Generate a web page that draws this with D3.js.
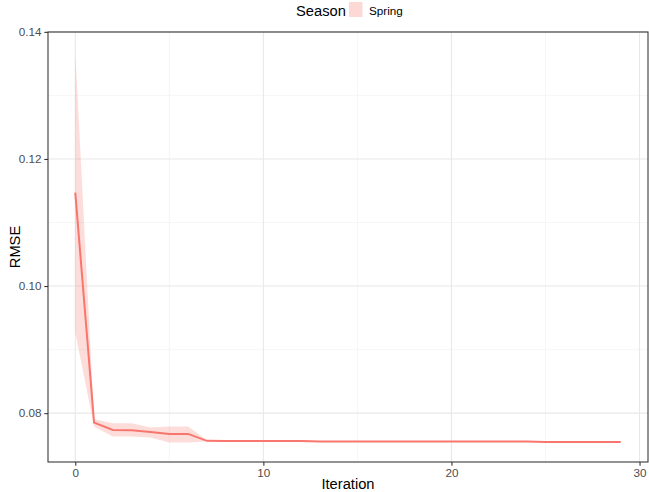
<!DOCTYPE html>
<html>
<head>
<meta charset="utf-8">
<script src="https://cdn.jsdelivr.net/npm/d3@7"></script>
<style>
  body { margin: 0; background: #fff; }
  svg { font-family: "Liberation Sans", Arial, Helvetica, sans-serif; display: block; }
</style>
</head>
<body>
<div id="chart"></div>
<script>
// RMSE per iteration (Spring), with ribbon bounds
const iterations = d3.range(0, 30);
const rmseMean = [
  0.1147, 0.07852, 0.07736, 0.07732, 0.07705, 0.07674, 0.07674, 0.07564,
  0.07562, 0.0756, 0.0756, 0.0756, 0.0756, 0.07555, 0.07555, 0.07555,
  0.07555, 0.07555, 0.07555, 0.07555, 0.07555, 0.07555, 0.07555, 0.07555,
  0.07555, 0.07548, 0.07548, 0.07548, 0.07548, 0.07548
];
const rmseLow = [
  0.0927, 0.0779, 0.07633, 0.07633, 0.07617, 0.07539, 0.07539, 0.07555,
  0.07552, 0.0755, 0.0755, 0.0755, 0.0755, 0.0755, 0.0755, 0.0755,
  0.0755, 0.0755, 0.0755, 0.0755, 0.0755, 0.0755, 0.0755, 0.0755,
  0.0755, 0.07543, 0.07543, 0.07543, 0.07543, 0.07543
];
const rmseHigh = [
  0.1369, 0.07905, 0.07842, 0.0784, 0.07774, 0.0779, 0.0779, 0.07573,
  0.07572, 0.0757, 0.0757, 0.0757, 0.0757, 0.0756, 0.0756, 0.0756,
  0.0756, 0.0756, 0.0756, 0.0756, 0.0756, 0.0756, 0.0756, 0.0756,
  0.0756, 0.07553, 0.07553, 0.07553, 0.07553, 0.07553
];
const xTicks = [0, 10, 20, 30];
const xMinor = [5, 15, 25];
const yTicks = [0.08, 0.10, 0.12, 0.14];
const yMinor = [0.09, 0.11, 0.13];
const seasons = ["Spring"];

const W = 649, H = 492;
const margin = { top: 32, right: 1, bottom: 30, left: 48 };
const color = "#F8766D";

const data = iterations.map((it, i) => ({
  it, mean: rmseMean[i], lo: rmseLow[i], hi: rmseHigh[i]
}));

// ggplot-style 5% expansion
const expand = ([a, b]) => { const p = (b - a) * 0.05; return [a - p, b + p]; };

const x = d3.scaleLinear()
  .domain(expand(d3.extent(iterations)))
  .range([margin.left, W - margin.right]);
const y = d3.scaleLinear()
  .domain(expand([d3.min(rmseLow), d3.max(rmseHigh)]))
  .range([H - margin.bottom, margin.top]);

const svg = d3.select("#chart").append("svg")
  .attr("width", W).attr("height", H);

const px0 = margin.left, px1 = W - margin.right;
const py0 = margin.top, py1 = H - margin.bottom;

// grid
const grid = svg.append("g");
grid.selectAll(".xminor").data(xMinor).enter().append("line")
  .attr("x1", x).attr("x2", x).attr("y1", py0).attr("y2", py1)
  .attr("stroke", "#f0f0f0").attr("stroke-width", 0.6);
grid.selectAll(".yminor").data(yMinor).enter().append("line")
  .attr("y1", y).attr("y2", y).attr("x1", px0).attr("x2", px1)
  .attr("stroke", "#f0f0f0").attr("stroke-width", 0.6);
grid.selectAll(".xmajor").data(xTicks).enter().append("line")
  .attr("x1", x).attr("x2", x).attr("y1", py0).attr("y2", py1)
  .attr("stroke", "#e8e8e8").attr("stroke-width", 1.07);
grid.selectAll(".ymajor").data(yTicks).enter().append("line")
  .attr("y1", y).attr("y2", y).attr("x1", px0).attr("x2", px1)
  .attr("stroke", "#e8e8e8").attr("stroke-width", 1.07);

// ribbon + line
svg.append("path").datum(data)
  .attr("d", d3.area().x((d) => x(d.it)).y0((d) => y(d.lo)).y1((d) => y(d.hi)))
  .attr("fill", color).attr("fill-opacity", 0.25);
svg.append("path").datum(data)
  .attr("d", d3.line().x((d) => x(d.it)).y((d) => y(d.mean)))
  .attr("fill", "none").attr("stroke", color).attr("stroke-width", 2);

// panel border
svg.append("rect")
  .attr("x", px0).attr("y", py0).attr("width", px1 - px0).attr("height", py1 - py0)
  .attr("fill", "none").attr("stroke", "#333").attr("stroke-width", 1.07);

// axes
const xAxis = svg.append("g").attr("transform", `translate(0,${py1})`)
  .call(d3.axisBottom(x).tickValues(xTicks).tickSize(3.7).tickPadding(2.9).tickFormat(d3.format("d")));
const yAxis = svg.append("g").attr("transform", `translate(${px0},0)`)
  .call(d3.axisLeft(y).tickValues(yTicks).tickSize(3.7).tickPadding(2.9).tickFormat(d3.format(".2f")));
[xAxis, yAxis].forEach((g) => {
  g.select(".domain").remove();
  g.selectAll(".tick line").attr("stroke", "#333").attr("stroke-width", 1.07);
  g.selectAll(".tick text").attr("fill", "#4d4d4d").attr("font-size", "11.7px")
    .attr("font-family", "Liberation Sans, Arial, sans-serif");
});

// axis titles
svg.append("text").attr("x", (px0 + px1) / 2).attr("y", 489)
  .attr("text-anchor", "middle").attr("font-size", "14.7px").attr("fill", "#000")
  .text("Iteration");
svg.append("text").attr("transform", `translate(20,${(py0 + py1) / 2}) rotate(-90)`)
  .attr("text-anchor", "middle").attr("font-size", "14.7px").attr("fill", "#000")
  .text("RMSE");

// legend
const legend = svg.append("g");
legend.append("text").attr("x", 296).attr("y", 16)
  .attr("font-size", "14.7px").attr("fill", "#000").text("Season");
const key = legend.selectAll(".key").data(seasons).enter().append("g");
key.append("rect").attr("x", 349).attr("y", 2).attr("width", 13.5).attr("height", 15)
  .attr("fill", color).attr("fill-opacity", 0.28);
key.append("text").attr("x", 369).attr("y", 15)
  .attr("font-size", "11.7px").attr("fill", "#000").text((d) => d);
</script>
</body>
</html>
